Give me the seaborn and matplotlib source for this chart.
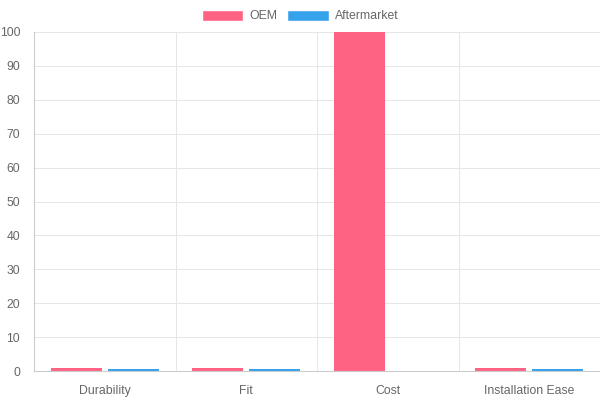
import pandas as pd
import matplotlib
matplotlib.use("Agg")
import matplotlib.pyplot as plt
import seaborn as sns
from matplotlib.patches import Patch

# dados
categorias = ["Durability", "Fit", "Cost", "Installation Ease"]
series = ["OEM", "Aftermarket"]
valores_oem = [1.0, 1.0, 150, 1.0]
valores_aftermarket = [0.5, 0.5, 0.1, 0.5]
cores = {"OEM": "#ff6384", "Aftermarket": "#36a2eb"}

df = pd.DataFrame({
    "categoria": categorias * 2,
    "serie": ["OEM"] * len(categorias) + ["Aftermarket"] * len(categorias),
    "valor": valores_oem + valores_aftermarket,
})

sns.set_style("white")
plt.rcParams["font.family"] = ["Liberation Sans", "DejaVu Sans"]

fig = plt.figure(figsize=(6, 4), dpi=100)
ax = fig.add_axes([34 / 600, 29 / 400, 566 / 600, 339 / 400])

sns.barplot(data=df, x="categoria", y="valor", hue="serie", order=categorias,
            hue_order=series, palette=cores, width=0.8, gap=0.1,
            saturation=1, linewidth=0, ax=ax, legend=False, errorbar=None)

ax.set_ylim(0, 100)
ax.set_xlim(-0.5, len(categorias) - 0.5)
ax.set_yticks(range(0, 101, 10))
ax.set_xlabel("")
ax.set_ylabel("")

# grades nas fronteiras das categorias (estilo Chart.js)
ax.set_xticks([i - 0.5 for i in range(len(categorias) + 1)])
ax.set_xticklabels([])
ax.set_xticks(range(len(categorias)), minor=True)
ax.set_xticklabels(categorias, minor=True)
ax.tick_params(axis="x", which="major", length=8, color="#dddddd", width=0.8)
ax.tick_params(axis="x", which="minor", length=0, pad=10, labelsize=8.8, labelcolor="#666666")
ax.tick_params(axis="y", length=8, color="#e5e5e5", width=0.8, pad=2, labelsize=8.7, labelcolor="#666666")

ax.grid(True, which="major", color="#e6e6e6", linewidth=0.7)
ax.set_axisbelow(True)
for lado in ["top", "right"]:
    ax.spines[lado].set_visible(False)
ax.spines["left"].set_color("#cccccc")
ax.spines["bottom"].set_color("#cccccc")
ax.spines["left"].set_linewidth(0.8)
ax.spines["bottom"].set_linewidth(0.8)

handles = [Patch(facecolor=cores[s], label=s) for s in series]
fig.legend(handles=handles, loc="center", bbox_to_anchor=(0.5, 1 - 16 / 400),
           ncol=2, frameon=False, fontsize=8.8, labelcolor="#666666",
           handlelength=3.4, handleheight=1.0, handletextpad=0.5, columnspacing=0.8)

fig.savefig("out.png", dpi=100)
